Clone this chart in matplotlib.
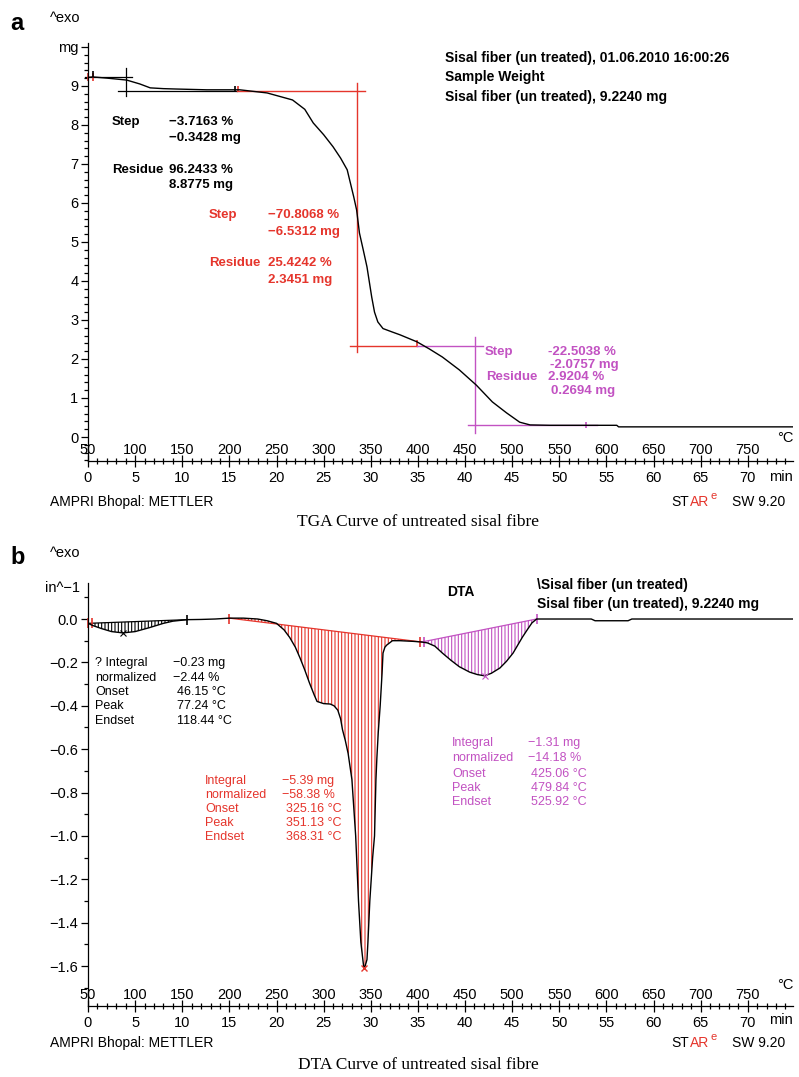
import numpy as np
import matplotlib.pyplot as plt
from matplotlib.ticker import MultipleLocator

plt.rcParams['font.family'] = ['Liberation Sans', 'DejaVu Sans']
plt.rcParams['hatch.linewidth'] = 0.8

RED = '#e5352c'
MAG = '#c252c2'

# TGA curve (temperature in °C, mass in mg)
tga_temp = [50, 55, 70, 91, 105, 116, 130, 144, 176, 211, 240, 267, 280, 289, 300,
            310, 318, 325, 332, 335, 338, 342, 346, 351, 354, 357.5, 363, 373, 381, 390,
            399, 412, 426, 444, 462, 479, 494, 508, 519, 540, 580, 611, 613, 700, 798]
tga_mass = [9.22, 9.23, 9.20, 9.15, 9.05, 8.95, 8.93, 8.92, 8.90, 8.90, 8.82, 8.64, 8.40, 8.05, 7.75,
            7.44, 7.15, 6.85, 6.15, 5.82, 5.23, 4.80, 4.36, 3.59, 3.20, 2.95, 2.78, 2.69, 2.62, 2.53,
            2.44, 2.26, 2.05, 1.72, 1.33, 0.90, 0.62, 0.38, 0.31, 0.30, 0.30, 0.30, 0.26, 0.26, 0.26]

# DTA curve
dta_temp = [50, 55, 65, 75, 87, 100, 115, 130, 140, 155, 170, 185, 200, 215, 230,
            240, 250, 258, 264, 270, 275, 280, 285, 290, 293, 300, 307, 311, 315, 318,
            320, 323, 326, 330, 334, 337, 339.5, 341.6, 342.7, 344, 346, 347, 349, 352, 354,
            355.5, 356.5, 358, 360, 362, 363, 365, 367, 370, 373, 381, 395, 404, 410, 418,
            426, 435, 444, 455, 463, 471, 478, 487, 494, 501, 506, 511, 516, 521, 526,
            550, 584, 588, 620, 623, 627, 700, 798]
dta_sig = [-0.020, -0.030, -0.045, -0.058, -0.064, -0.058, -0.040, -0.020, -0.010, -0.003, -0.002, 0.000, 0.004, 0.004, 0.000,
           -0.008, -0.020, -0.050, -0.085, -0.130, -0.180, -0.235, -0.295, -0.350, -0.380, -0.390, -0.392, -0.400, -0.420, -0.460,
           -0.510, -0.560, -0.620, -0.740, -1.000, -1.300, -1.490, -1.570, -1.610, -1.600, -1.570, -1.490, -1.300, -1.100, -1.000,
           -0.740, -0.640, -0.520, -0.400, -0.250, -0.157, -0.130, -0.120, -0.110, -0.100, -0.100, -0.103, -0.106, -0.110, -0.125,
           -0.157, -0.190, -0.220, -0.245, -0.256, -0.262, -0.250, -0.226, -0.195, -0.157, -0.120, -0.083, -0.050, -0.018, 0.000,
           0.000, 0.000, -0.008, -0.008, -0.008, 0.000, 0.000, 0.000]

# integration ranges (start, end) of the three DTA peaks
dta_ranges = [(50, 155), (200, 404), (404, 526)]
dta_colors = ['black', RED, MAG]

temp_ticks = list(range(50, 751, 50))
min_ticks = list(range(0, 71, 5))

W, H = 799, 1077
fig = plt.figure(figsize=(W / 100, H / 100), dpi=100)


def fx(px):
    return px / W


def fy(py):
    return 1 - py / H


def ptext(px, py, s, **kw):
    kw.setdefault('va', 'center')
    fig.text(fx(px), fy(py), s, **kw)


def style_axes(ax, ylo, yhi, yticks, ylabels, yminor):
    ax.set_xlim(50, 798)
    ax.set_ylim(ylo, yhi)
    ax.spines['top'].set_visible(False)
    ax.spines['right'].set_visible(False)
    for s in ['left', 'bottom']:
        ax.spines[s].set_linewidth(0.9)
    ax.set_yticks(yticks)
    ax.set_yticklabels(ylabels)
    ax.yaxis.set_minor_locator(MultipleLocator(yminor))
    ax.tick_params(axis='y', which='major', length=5, width=0.9, labelsize=10.5, pad=2)
    ax.tick_params(axis='y', which='minor', length=3, width=0.9)
    ax.set_xticks(temp_ticks)
    ax.set_xticklabels([str(t) for t in temp_ticks])
    ax.xaxis.set_minor_locator(MultipleLocator(10))
    ax.tick_params(axis='x', which='major', direction='inout', length=8, width=0.9,
                   labelsize=10.5, pad=-17)
    ax.tick_params(axis='x', which='minor', direction='inout', length=5, width=0.9)
    sec = ax.secondary_xaxis('bottom', functions=(lambda t: (t - 50) / 10.0,
                                                  lambda m: m * 10.0 + 50))
    sec.set_xticks(min_ticks)
    sec.set_xticklabels([str(m) for m in min_ticks])
    sec.tick_params(length=0, pad=7, labelsize=10.5)
    sec.spines['bottom'].set_visible(False)


# ---------------- panel a: TGA ----------------
ax_a = fig.add_axes([fx(88), fy(461), fx(793) - fx(88), fy(43) - fy(461)])
style_axes(ax_a, -0.615, 10.1, list(range(0, 11)),
           [str(i) for i in range(10)] + ['mg'], 0.2)

ax_a.plot(tga_temp, tga_mass, color='black', lw=1.0, zorder=3)

# step evaluation lines
ax_a.plot([47, 97], [9.22, 9.22], color='black', lw=0.9, clip_on=False)
ax_a.plot([90.3, 90.3], [9.45, 8.75], color='black', lw=0.9)
ax_a.plot([82, 208], [8.88, 8.88], color='black', lw=0.9)
ax_a.plot([208, 344], [8.88, 8.88], color=RED, lw=1.0)
ax_a.plot([335, 335], [9.08, 2.18], color=RED, lw=1.0)
ax_a.plot([328, 399], [2.345, 2.345], color=RED, lw=1.0)
ax_a.plot([399, 469], [2.345, 2.345], color=MAG, lw=1.0)
ax_a.plot([461, 461], [2.56, 0.10], color=MAG, lw=1.0)
ax_a.plot([453, 590], [0.30, 0.30], color=MAG, lw=1.0)
ax_a.plot([50, 55.5], [9.22, 9.22], ls='none', marker='|', ms=6, color=RED, mew=1.2, clip_on=False)
ax_a.plot([55], [9.3], marker='|', ms=5, color='black', mew=1.2)
ax_a.plot([206], [8.92], marker='|', ms=5, color='black', mew=1.2)
ax_a.plot([209], [8.92], marker='|', ms=5, color=RED, mew=1.2)
ax_a.plot([399], [2.4], marker='|', ms=5, color=RED, mew=1.2)
ax_a.plot([578], [0.32], marker='|', ms=5, color=MAG, mew=1.2)

ax_a.text(1.0, 0.056, '°C', transform=ax_a.transAxes, ha='right', va='center', fontsize=10.5)
ax_a.text(1.0, -0.038, 'min', transform=ax_a.transAxes, ha='right', va='center', fontsize=10.5)

ptext(10, 24, 'a', fontsize=17, fontweight='bold')
ptext(50, 18, '^exo', fontsize=10.5)

for i, line in enumerate(['Sisal fiber (un treated), 01.06.2010 16:00:26', 'Sample Weight',
                          'Sisal fiber (un treated), 9.2240 mg']):
    ptext(445, [58, 77, 97][i], line, fontsize=10, fontweight='bold')

for px, py, s in [(112, 122, 'Step'), (169, 122, '\u22123.7163 %'), (169, 138, '\u22120.3428 mg'),
                  (112, 170, 'Residue'), (169, 170, '96.2433 %'), (169, 185, '8.8775 mg')]:
    ptext(px, py, s, fontsize=9.5, fontweight='bold')
for px, py, s in [(209, 215, 'Step'), (268, 215, '\u221270.8068 %'), (268, 232, '\u22126.5312 mg'),
                  (209, 263, 'Residue'), (268, 263, '25.4242 %'), (268, 280, '2.3451 mg')]:
    ptext(px, py, s, fontsize=9.5, fontweight='bold', color=RED)
for px, py, s in [(485, 352, 'Step'), (548, 352, '-22.5038 %'), (550, 365, '-2.0757 mg'),
                  (486, 377, 'Residue'), (548, 377, '2.9204 %'), (551, 391, '0.2694 mg')]:
    ptext(px, py, s, fontsize=9.5, fontweight='bold', color=MAG)

# ---------------- panel b: DTA ----------------
ax_b = fig.add_axes([fx(88), fy(1006), fx(793) - fx(88), fy(583) - fy(1006)])
yt = [-1.6, -1.4, -1.2, -1.0, -0.8, -0.6, -0.4, -0.2, 0.0]
style_axes(ax_b, -1.784, 0.166, yt,
           [('%.1f' % v).replace('-', '\u2212') if v != 0 else '0.0' for v in yt], 0.1)

x = np.array(dta_temp)
y = np.array(dta_sig)
for (t0, t1), c in zip(dta_ranges, dta_colors):
    y0 = y[x == t0][0]
    y1 = y[x == t1][0]
    base = y0 + (y1 - y0) * (x - t0) / (t1 - t0)
    m = (x >= t0) & (x <= t1)
    ax_b.fill_between(x, base, y, where=m, facecolor='none', edgecolor=c,
                      hatch='|||||', linewidth=0, zorder=1)
    ax_b.plot([t0, t1], [y0, y1], color=c, lw=0.9, zorder=2)

ax_b.plot(dta_temp, dta_sig, color='black', lw=1.0, zorder=3)

ax_b.plot([50, 54], [-0.02, -0.02], ls='none', marker='|', ms=7, color=RED, mew=1.2, clip_on=False)
ax_b.plot([155], [-0.003], marker='|', ms=7, color='black', mew=1.2)
ax_b.plot([200], [0.0], marker='|', ms=7, color=RED, mew=1.2)
ax_b.plot([402], [-0.106], marker='|', ms=7, color=RED, mew=1.2)
ax_b.plot([406], [-0.106], marker='|', ms=7, color=MAG, mew=1.2)
ax_b.plot([526], [0.0], marker='|', ms=7, color=MAG, mew=1.2)
ax_b.plot([87], [-0.064], marker='x', ms=4, color='black', mew=0.8)
ax_b.plot([342.7], [-1.61], marker='x', ms=5, color=RED, mew=1.0, zorder=4)
ax_b.plot([471], [-0.262], marker='x', ms=4, color=MAG, mew=0.8, zorder=4)

ax_b.text(1.0, 0.05, '°C', transform=ax_b.transAxes, ha='right', va='center', fontsize=10.5)
ax_b.text(1.0, -0.033, 'min', transform=ax_b.transAxes, ha='right', va='center', fontsize=10.5)

ptext(10, 558, 'b', fontsize=17, fontweight='bold')
ptext(50, 553, '^exo', fontsize=10.5)
ptext(80, 588, 'in^\u22121', fontsize=10.5, ha='right')

ptext(447, 592, 'DTA', fontsize=10, fontweight='bold')
ptext(537, 585, '\\Sisal fiber (un treated)', fontsize=10, fontweight='bold')
ptext(537, 604, 'Sisal fiber (un treated), 9.2240 mg', fontsize=10, fontweight='bold')

for px, py, s in [(95, 663, '? Integral'), (173, 663, '\u22120.23 mg'), (95, 678, 'normalized'),
                  (173, 678, '\u22122.44 %'), (95, 692, 'Onset'), (177, 692, '46.15 \u00b0C'),
                  (95, 706, 'Peak'), (177, 706, '77.24 \u00b0C'), (95, 721, 'Endset'),
                  (177, 721, '118.44 \u00b0C')]:
    ptext(px, py, s, fontsize=9)
for px, py, s in [(205, 781, 'Integral'), (282, 781, '\u22125.39 mg'), (205, 795, 'normalized'),
                  (282, 795, '\u221258.38 %'), (205, 809, 'Onset'), (286, 809, '325.16 \u00b0C'),
                  (205, 823, 'Peak'), (286, 823, '351.13 \u00b0C'), (205, 837, 'Endset'),
                  (286, 837, '368.31 \u00b0C')]:
    ptext(px, py, s, fontsize=9, color=RED)
for px, py, s in [(452, 743, 'Integral'), (528, 743, '\u22121.31 mg'), (452, 758, 'normalized'),
                  (528, 758, '\u221214.18 %'), (452, 774, 'Onset'), (531, 774, '425.06 \u00b0C'),
                  (452, 788, 'Peak'), (531, 788, '479.84 \u00b0C'), (452, 802, 'Endset'),
                  (531, 802, '525.92 \u00b0C')]:
    ptext(px, py, s, fontsize=9, color=MAG)

# footers and captions
for y_foot, y_cap, cap in [(502, 522, 'TGA Curve of untreated sisal fibre'),
                           (1043, 1065, 'DTA Curve of untreated sisal fibre')]:
    ptext(50, y_foot, 'AMPRI Bhopal: METTLER', fontsize=10)
    ptext(689, y_foot, 'ST', fontsize=10, ha='right')
    ptext(690, y_foot, 'AR', fontsize=10, color=RED)
    ptext(710.5, y_foot - 6, 'e', fontsize=8, color=RED)
    ptext(732, y_foot, 'SW 9.20', fontsize=10)
    ptext(418, y_cap, cap, fontsize=12.5, ha='center', family='Liberation Serif')

fig.savefig('out.png', dpi=100)
